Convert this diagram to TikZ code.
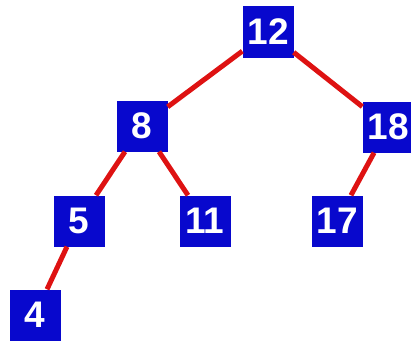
\documentclass[tikz,border=0pt]{standalone}
\usepackage{fontspec}
\setmainfont{Liberation Sans}
\definecolor{boxblue}{RGB}{8,8,205}
\definecolor{edgered}{RGB}{222,18,18}
\begin{document}
\begin{tikzpicture}
  [x=1pt,y=-1pt,every node/.style={rectangle,fill=boxblue,text=white,minimum size=51pt,inner sep=0pt,font=\fontsize{37}{37}\selectfont\bfseries}]
  \useasboundingbox (0,0) rectangle (411,345);
  \node (n12) at (268,32)  {12};
  \node (n8)  at (142,126) {8};
  \node (n18) at (388,127) {18};
  \node (n5)  at (79,221)  {5};
  \node (n11) at (205,221) {11};
  \node (n17) at (337,221) {17};
  \node (n4)  at (35,315)  {4};

  \foreach \from/\to in {n12/n8, n12/n18, n8/n5, n8/n11, n18/n17, n5/n4}
  \draw[edgered,line width=5pt] (\from) -- (\to);
\end{tikzpicture}
\end{document}
